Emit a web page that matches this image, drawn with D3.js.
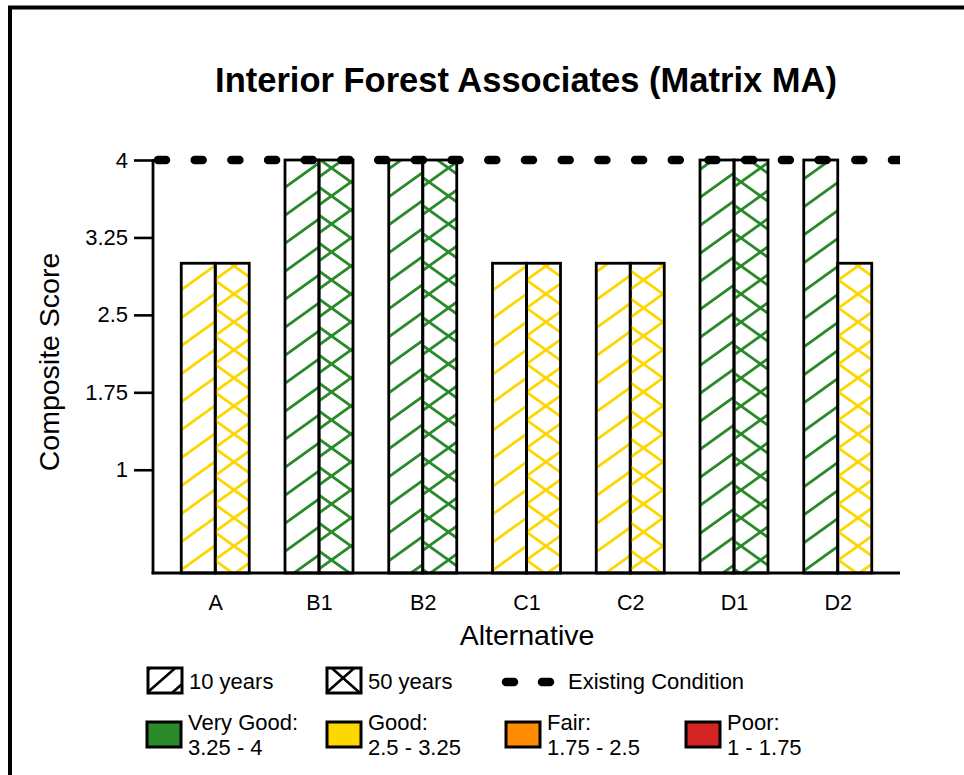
<!DOCTYPE html>
<html>
<head>
<meta charset="utf-8">
<script src="https://cdn.jsdelivr.net/npm/d3@7"></script>
<style>
  html, body { margin: 0; padding: 0; background: #fff; }
  svg { display: block; font-family: "Liberation Sans", Arial, sans-serif; }
</style>
</head>
<body>
<svg id="chart" width="964" height="775"></svg>
<script>
// ---- data ----
const categories = ["A", "B1", "B2", "C1", "C2", "D1", "D2"];
const tenYear   = [3, 4, 4, 3, 3, 4, 4];
const fiftyYear = [3, 4, 4, 3, 3, 4, 3];
const existingCondition = 4;
const yTicks = [1, 1.75, 2.5, 3.25, 4];
const yTickLabels = ["1", "1.75", "2.5", "3.25", "4"];
const ratingNames  = ["Very Good:", "Good:", "Fair:", "Poor:"];
const ratingRanges = ["3.25 - 4", "2.5 - 3.25", "1.75 - 2.5", "1 - 1.75"];
const ratingLower  = [3.25, 2.5, 1.75, 1];
const ratingColors = ["#2a8a2a", "#ffd700", "#ff8c00", "#d42323"];
const seriesNames = ["10 years", "50 years"];

const svg = d3.select("#chart");
const defs = svg.append("defs");

function ratingIndex(v) {
  for (let i = 0; i < ratingLower.length; i++) if (v >= ratingLower[i]) return i;
  return ratingLower.length - 1;
}

function makePattern(id, color, cross, W, H, sw, ox, oy) {
  const p = defs.append("pattern")
    .attr("id", id).attr("patternUnits", "userSpaceOnUse")
    .attr("x", ox).attr("y", oy).attr("width", W).attr("height", H);
  let d = `M0,${H} L${W},0 M${-W/4},${H/4} L${W/4},${-H/4} M${3*W/4},${5*H/4} L${5*W/4},${3*H/4}`;
  if (cross) d += ` M0,0 L${W},${H} M${-W/4},${3*H/4} L${W/4},${5*H/4} M${3*W/4},${-H/4} L${5*W/4},${H/4}`;
  p.append("path").attr("d", d).attr("stroke", color).attr("stroke-width", sw).attr("fill", "none");
}
ratingColors.forEach((c, i) => {
  makePattern("h10_" + i, c, false, 39, 28, 2.8, 0, 0);
  makePattern("h50_" + i, c, true, 39, 28, 2.8, 0, 14);
});
makePattern("leg10", "#000", false, 25, 22, 2.6, 148, 670);
makePattern("leg50", "#000", true, 34, 30, 2.6, 326, 663);

// ---- frame ----
svg.append("rect").attr("x", 10).attr("y", 7.5).attr("width", 2000).attr("height", 2000)
  .attr("fill", "none").attr("stroke", "#000").attr("stroke-width", 4);

// ---- scales ----
const x0 = 153, x1 = 900, yTop = 160, yBot = 573;
const x = d3.scalePoint().domain(categories).range([x0, x1]).padding(0.6);
const y = d3.scaleLinear().domain([0, 4]).range([yBot, yTop]);
const barW = 34;

// title
svg.append("text").attr("x", 526).attr("y", 92).attr("text-anchor", "middle")
  .attr("font-size", 34.5).attr("font-weight", "bold").text("Interior Forest Associates (Matrix MA)");

// bars
const g = svg.append("g");
categories.forEach((c, i) => {
  const cx = x(c);
  [tenYear[i], fiftyYear[i]].forEach((v, s) => {
    const ri = ratingIndex(v);
    g.append("rect")
      .attr("x", s === 0 ? cx - barW : cx)
      .attr("y", y(v)).attr("width", barW).attr("height", y(0) - y(v))
      .attr("fill", `url(#${s === 0 ? "h10_" : "h50_"}${ri})`)
      .attr("stroke", "#000").attr("stroke-width", 2.8);
  });
});

// y axis
const yAxis = d3.axisLeft(y).tickValues(yTicks).tickFormat((d, i) => yTickLabels[i])
  .tickSize(19).tickPadding(6);
const ya = svg.append("g").attr("transform", `translate(${x0},0)`).call(yAxis);
ya.select(".domain").remove();
ya.selectAll(".tick line").attr("stroke", "#000").attr("stroke-width", 2.6);
ya.selectAll(".tick text").attr("font-size", 22).attr("fill", "#000")
  .attr("font-family", "Liberation Sans, Arial, sans-serif");
svg.append("line").attr("x1", x0).attr("x2", x0).attr("y1", y(4) - 1).attr("y2", yBot + 1.3)
  .attr("stroke", "#000").attr("stroke-width", 2.8);

// x axis
const xAxis = d3.axisBottom(x).tickSize(0).tickPadding(22);
const xa = svg.append("g").attr("transform", `translate(0,${yBot})`).call(xAxis);
xa.select(".domain").remove();
xa.selectAll(".tick text").attr("font-size", 21.5).attr("fill", "#000")
  .attr("font-family", "Liberation Sans, Arial, sans-serif");
svg.append("line").attr("x1", x0 - 1.4).attr("x2", x1).attr("y1", yBot).attr("y2", yBot)
  .attr("stroke", "#000").attr("stroke-width", 2.8);

// existing condition line
svg.append("clipPath").attr("id", "plotclip").append("rect")
  .attr("x", x0 - 5).attr("y", 0).attr("width", x1 - x0 + 5).attr("height", 775);
svg.append("line").attr("clip-path", "url(#plotclip)")
  .attr("x1", 158).attr("x2", x1 + 10).attr("y1", y(existingCondition)).attr("y2", y(existingCondition))
  .attr("stroke", "#000").attr("stroke-width", 8.5).attr("stroke-linecap", "round")
  .attr("stroke-dasharray", "8,28.7");

// axis titles
svg.append("text").attr("x", 527).attr("y", 645).attr("text-anchor", "middle")
  .attr("font-size", 28.5).text("Alternative");
svg.append("text").attr("transform", "translate(59,362) rotate(-90)").attr("text-anchor", "middle")
  .attr("font-size", 28.5).text("Composite Score");

// legend row 1
const leg = svg.append("g").attr("font-size", 22);
const row1Box = [148, 327];
seriesNames.forEach((n, i) => {
  leg.append("rect").attr("x", row1Box[i]).attr("y", 668).attr("width", 34).attr("height", 25)
    .attr("fill", i === 0 ? "url(#leg10)" : "url(#leg50)")
    .attr("stroke", "#000").attr("stroke-width", 3);
  leg.append("text").attr("x", row1Box[i] + 41).attr("y", 689).text(n);
});
leg.append("line").attr("x1", 506).attr("x2", 552).attr("y1", 682).attr("y2", 682)
  .attr("stroke", "#000").attr("stroke-width", 8.5).attr("stroke-linecap", "round")
  .attr("stroke-dasharray", "8,28");
leg.append("text").attr("x", 568).attr("y", 689).text("Existing Condition");

// legend row 2
const row2Box = [147, 327, 506, 686];
ratingNames.forEach((n, i) => {
  leg.append("rect").attr("x", row2Box[i]).attr("y", 722).attr("width", 34).attr("height", 25)
    .attr("fill", ratingColors[i]).attr("stroke", "#000").attr("stroke-width", 3);
  leg.append("text").attr("x", row2Box[i] + 41).attr("y", 730).text(n);
  leg.append("text").attr("x", row2Box[i] + 41).attr("y", 755).text(ratingRanges[i]);
});
</script>
</body>
</html>
